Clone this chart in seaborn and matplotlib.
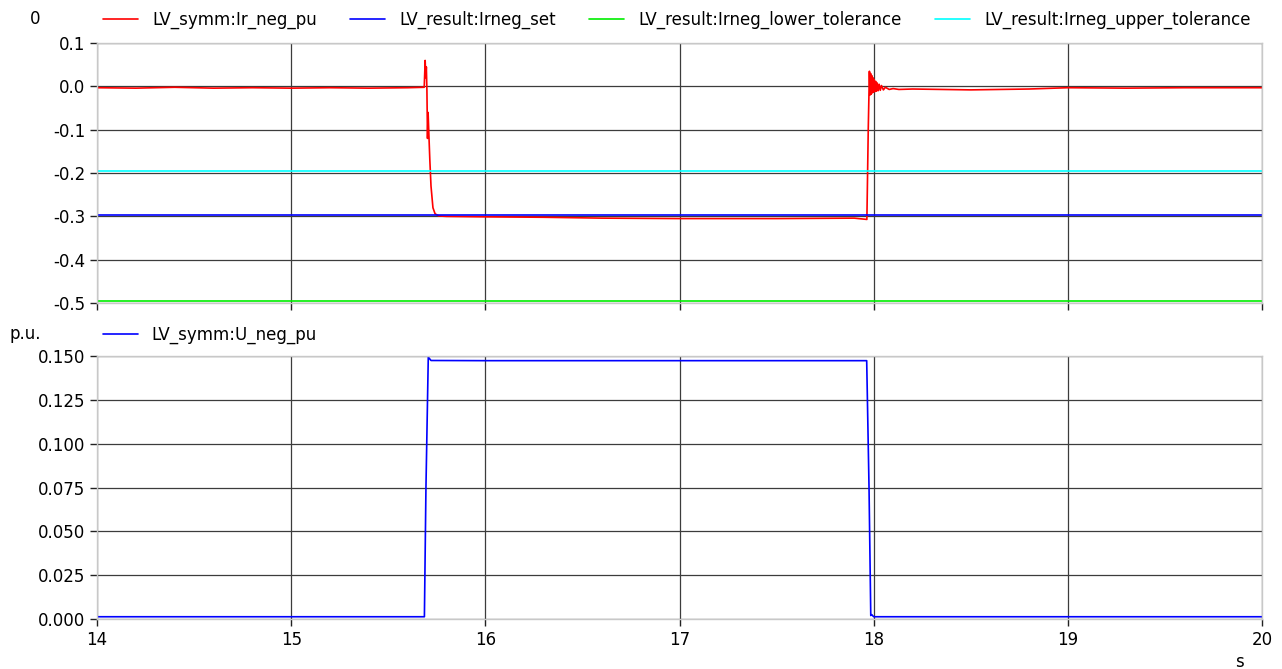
import matplotlib
matplotlib.use("Agg")
import matplotlib.pyplot as plt
import seaborn as sns
from matplotlib.ticker import FormatStrFormatter

# ---- data ----
t_ir = [14.0, 14.2, 14.4, 14.6, 14.8, 15.0, 15.2, 15.4, 15.6, 15.685, 15.69,
        15.693, 15.696, 15.699, 15.702, 15.705, 15.709, 15.714, 15.72, 15.73,
        15.741, 15.76, 15.8, 16.0, 16.3, 16.6, 17.0, 17.5, 17.9, 17.965, 17.972,
        17.978, 17.981, 17.984, 17.987, 17.99, 17.993, 17.996, 17.999, 18.002,
        18.006, 18.01, 18.014, 18.018, 18.023, 18.028, 18.034, 18.04, 18.05,
        18.06, 18.08, 18.1, 18.13, 18.2, 18.5, 18.8, 19.0, 19.3, 19.6, 20.0]
ir_neg = [-0.003, -0.004, -0.002, -0.004, -0.003, -0.004, -0.003, -0.004, -0.003,
          -0.002, 0.06, 0.02, 0.045, -0.01, -0.12, -0.06, -0.11, -0.17, -0.23,
          -0.28, -0.294, -0.299, -0.300, -0.301, -0.302, -0.304, -0.305, -0.305,
          -0.304, -0.307, -0.10, 0.035, -0.02, 0.03, -0.018, 0.025, -0.015, 0.02,
          -0.013, 0.016, -0.012, 0.012, -0.011, 0.008, -0.01, 0.005, -0.009, 0.002,
          -0.008, -0.002, -0.007, -0.005, -0.007, -0.006, -0.008, -0.006, -0.003,
          -0.004, -0.003, -0.003]

irneg_set = -0.296
irneg_lower = -0.496
irneg_upper = -0.196

t_u = [14.0, 15.0, 15.686, 15.694, 15.706, 15.72, 16.0, 17.0, 17.964, 17.976,
       17.985, 17.99, 18.0, 19.0, 20.0]
u_neg = [0.0013, 0.0013, 0.0013, 0.075, 0.1494, 0.1475, 0.1474, 0.1474, 0.1474,
         0.075, 0.002, 0.0025, 0.0013, 0.0013, 0.0013]

t_range = [14.0, 20.0]

sns.set_style("white")
plt.rcParams['font.family'] = ['DejaVu Sans']
plt.rcParams['font.size'] = 12
plt.rcParams['text.color'] = 'black'

fig = plt.figure(figsize=(12.82, 6.69), dpi=100)
ax1 = fig.add_axes([0.0757, 0.547, 0.9087, 0.3886])
ax2 = fig.add_axes([0.0757, 0.0747, 0.9087, 0.393])

lw = 1.2
sns.lineplot(x=t_ir, y=ir_neg, ax=ax1, color="#ff0000", lw=lw, sort=False,
             estimator=None, label="LV_symm:Ir_neg_pu")
sns.lineplot(x=t_range, y=[irneg_set] * 2, ax=ax1, color="#0000ff", lw=lw,
             label="LV_result:Irneg_set")
sns.lineplot(x=t_range, y=[irneg_lower] * 2, ax=ax1, color="#00ee00", lw=lw,
             label="LV_result:Irneg_lower_tolerance")
sns.lineplot(x=t_range, y=[irneg_upper] * 2, ax=ax1, color="#00ffff", lw=lw,
             label="LV_result:Irneg_upper_tolerance")

sns.lineplot(x=t_u, y=u_neg, ax=ax2, color="#0000ff", lw=lw, sort=False,
             estimator=None, label="LV_symm:U_neg_pu")

for ax in (ax1, ax2):
    ax.set_xlim(14, 20)
    ax.set_xticks([14, 15, 16, 17, 18, 19, 20])
    ax.grid(True, color="#3c3c3c", lw=0.9)
    ax.set_axisbelow(True)
    for s in ax.spines.values():
        s.set_color("#c8c8c8")
        s.set_linewidth(1.0)
    ax.tick_params(axis="both", which="both", direction="out", length=5,
                   width=1, color="#222222", labelcolor="black", labelsize=12,
                   left=True, bottom=True)
    ax.set_xlabel("")
    ax.set_ylabel("")

ax1.set_ylim(-0.5, 0.1)
ax1.set_yticks([-0.5, -0.4, -0.3, -0.2, -0.1, 0.0, 0.1])
ax1.yaxis.set_major_formatter(FormatStrFormatter("%.1f"))
ax1.tick_params(axis="x", labelbottom=False)

ax2.set_ylim(0, 0.15)
ax2.set_yticks([0, 0.025, 0.05, 0.075, 0.1, 0.125, 0.15])
ax2.yaxis.set_major_formatter(FormatStrFormatter("%.3f"))

ax1.legend(loc="center left", bbox_to_anchor=(0.005, 1.088), ncol=4, frameon=False,
           handlelength=2.1, handletextpad=0.85, columnspacing=2.0,
           borderpad=0, borderaxespad=0, fontsize=12)
ax2.legend(loc="center left", bbox_to_anchor=(0.005, 1.080), ncol=1, frameon=False,
           handlelength=2.1, handletextpad=0.8, borderpad=0, borderaxespad=0,
           fontsize=12)

fig.text(35 / 1282, 1 - 19 / 669, "0", ha="center", va="center", fontsize=12)
fig.text(25 / 1282, 1 - 334 / 669, "p.u.", ha="center", va="center", fontsize=12)
fig.text(1239 / 1282, 1 - 662 / 669, "s", ha="center", va="center", fontsize=12)

fig.savefig("out.png", dpi=100)
